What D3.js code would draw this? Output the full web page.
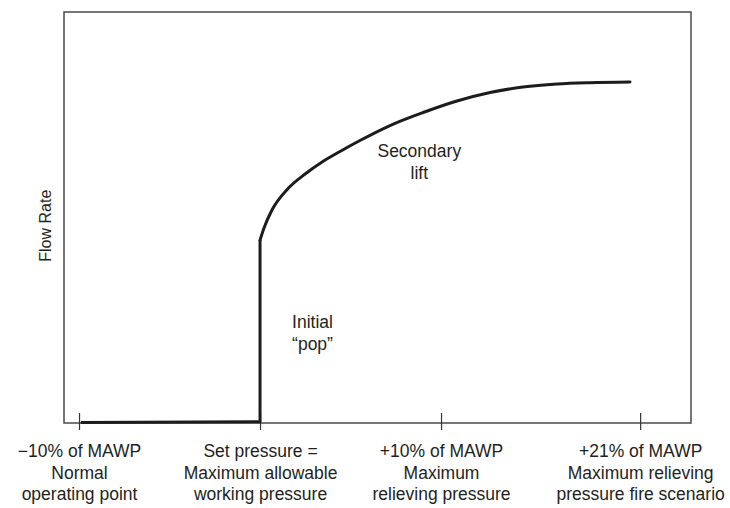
<!DOCTYPE html>
<html>
<head>
<meta charset="utf-8">
<script src="https://cdn.jsdelivr.net/npm/d3@7"></script>
<style>
  body { margin: 0; background: #fff; }
  text { font-family: "Liberation Sans", Arial, sans-serif; fill: #231f20; }
</style>
</head>
<body>
<svg id="chart"></svg>
<script>
// tick positions (% of MAWP) and their labels
const tickValues = [-10, 0, 10, 21]
const tickLabels = [
  ["\u221210% of MAWP", "Normal", "operating point"],
  ["Set pressure =", "Maximum allowable", "working pressure"],
  ["+10% of MAWP", "Maximum", "relieving pressure"],
  ["+21% of MAWP", "Maximum relieving", "pressure fire scenario"]
]

// flat part + initial pop (pressure %, flow %)
const popX = [-9.9, 0, 0]
const popY = [0.1, 0.3, 44.5]

// secondary lift curve
const liftX = [0, 0.22, 0.66, 1.55, 2.49, 3.43, 4.42, 5.52, 7.18, 9.01, 10.88, 12.71, 14.53, 16.41, 18.23, 20.44]
const liftY = [44.5, 47.45, 51.82, 57.06, 60.58, 63.5, 66.06, 68.73, 72.38, 75.55, 78.35, 80.41, 81.75, 82.48, 82.8, 82.97]

const notes = [
  {x: 2.9, y: 23.0, lines: ["Initial", "\u201Cpop\u201D"]},
  {x: 8.8, y: 64.8, lines: ["Secondary", "lift"]}
]

const width = 730,
    height = 508,
    margin = {top: 12, right: 39, bottom: 85, left: 64};

const svg = d3.select('#chart')
    .attr("width", width)
    .attr("height", height)

const x = d3.scaleLinear()
  .domain([-10.83, 23.81])
  .range([margin.left, width - margin.right])

const y = d3.scaleLinear()
  .domain([0, 100])
  .range([height - margin.bottom, margin.top])

// frame
svg.append("rect")
    .attr("x", margin.left)
    .attr("y", margin.top)
    .attr("width", width - margin.left - margin.right)
    .attr("height", height - margin.top - margin.bottom)
    .attr("fill", "none")
    .attr("stroke", "#4a4a4a")
    .attr("stroke-width", 1.5)

// x axis, ticks crossing the bottom edge
const xAxis = svg.append("g")
    .attr("transform", `translate(0,${height - margin.bottom})`)
    .call(d3.axisBottom(x).tickValues(tickValues).tickSize(7).tickFormat(""))
xAxis.select(".domain").remove()
xAxis.selectAll(".tick line")
    .attr("y1", -10)
    .attr("stroke", "#333")
    .attr("stroke-width", 1.2)

xAxis.selectAll(".tick")
  .append("text")
    .attr("text-anchor", "middle")
    .attr("font-size", 17.5)
    .selectAll("tspan")
    .data((d, i) => tickLabels[i])
    .join("tspan")
      .attr("x", 0)
      .attr("y", (d, i) => 34 + i * 21.5)
      .text(d => d)

// y label
svg.append("text")
    .attr("transform", `translate(51,${y(48)}) rotate(-90)`)
    .attr("text-anchor", "middle")
    .attr("font-size", 16)
    .text("Flow Rate")

const line = d3.line()
  .x(d => x(d[0]))
  .y(d => y(d[1]))

svg.append("path")
    .datum(d3.zip(popX, popY))
    .attr("d", line)
    .attr("fill", "none")
    .attr("stroke", "#1c1c1c")
    .attr("stroke-width", 3)
    .attr("stroke-linejoin", "round")

svg.append("path")
    .datum(d3.zip(liftX, liftY))
    .attr("d", line.curve(d3.curveMonotoneX))
    .attr("fill", "none")
    .attr("stroke", "#1c1c1c")
    .attr("stroke-width", 3)
    .attr("stroke-linecap", "round")

// annotations
svg.selectAll(".note")
  .data(notes)
  .join("text")
    .attr("class", "note")
    .attr("text-anchor", "middle")
    .attr("font-size", 17.5)
    .selectAll("tspan")
    .data(d => d.lines.map((t, i) => ({t, i, d})))
    .join("tspan")
      .attr("x", d => x(d.d.x))
      .attr("y", d => y(d.d.y) + d.i * 22)
      .text(d => d.t)
</script>
</body>
</html>
